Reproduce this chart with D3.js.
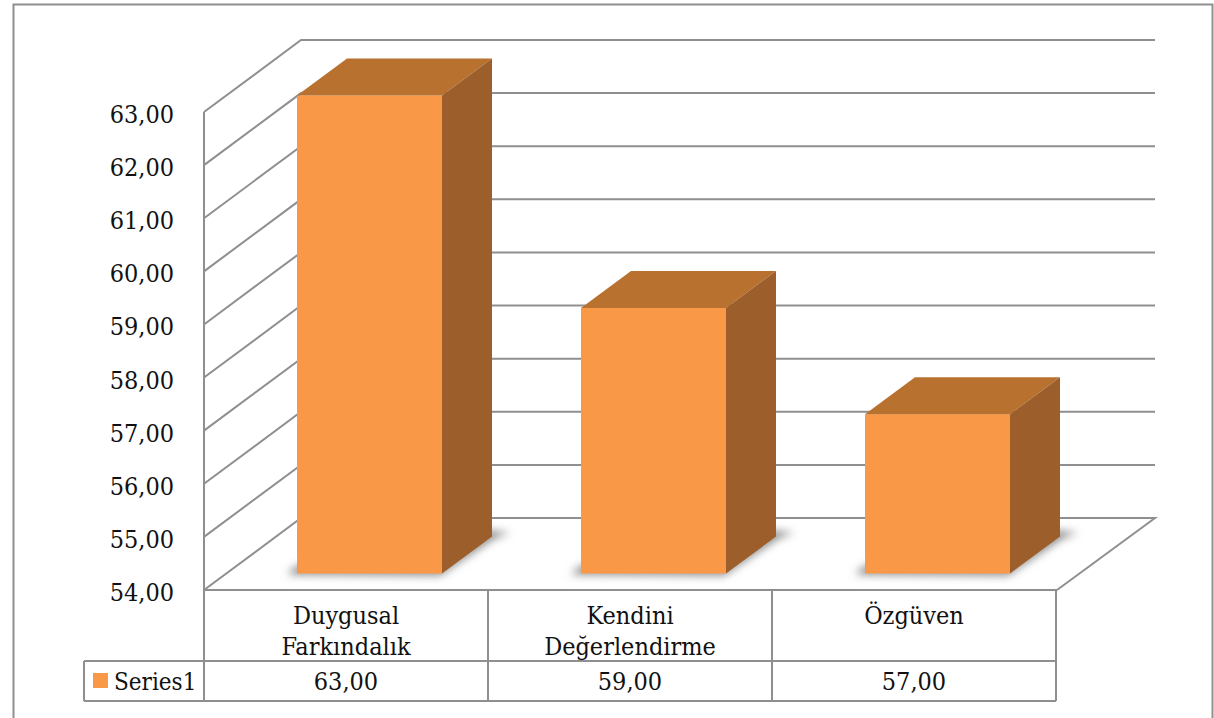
<!DOCTYPE html>
<html><head><meta charset="utf-8">
<script src="https://cdn.jsdelivr.net/npm/d3@7"></script>
<style>html,body{margin:0;padding:0;background:#fff}svg{display:block}
text{font-family:"DejaVu Serif Condensed","DejaVu Serif",serif;fill:#111;font-size:25px}</style>
</head><body><svg id="c" width="1214" height="718"></svg>
<script>
const categories = [["Duygusal","Farkındalık"],["Kendini","Değerlendirme"],["Özgüven"]];
const seriesName = "Series1";
const seriesValues = [63,59,57];
const tickValues = [54,55,56,57,58,59,60,61,62,63];
const fmt = v => v.toFixed(2).replace(".", ",");

const svg = d3.select("#c");
const lineCol = "#8f8f8f";
const y = d3.scaleLinear().domain([54,63]).range([590,112]);
const x = d3.scaleBand().domain(d3.range(3)).range([204,1056]).paddingInner(0).paddingOuter(0);
const depthX = 97, depthY = 72;
const barW = 145, barDX = 50, barDY = 37, barLift = 16.5, barShift = 23.5;

const defs = svg.append("defs");
const filt = defs.append("filter").attr("id","blur").attr("x","-20%").attr("y","-20%").attr("width","140%").attr("height","140%");
filt.append("feGaussianBlur").attr("stdDeviation",4);

// frame
svg.append("path").attr("d","M13.5,718V4.5H1212.5V718").attr("fill","none").attr("stroke",lineCol).attr("stroke-width",2);

// gridlines
const grid = svg.append("g").attr("fill","none").attr("stroke",lineCol).attr("stroke-width",2);
grid.selectAll("path").data(tickValues).join("path")
  .attr("d",v=>v===54
    ? `M204,${y(v)}L${204+depthX},${y(v)-depthY}H1155L1057,${y(v)}`
    : `M204,${y(v)}L${204+depthX},${y(v)-depthY}H1155`);
grid.append("path").attr("d",`M204,${y(63)}V${y(54)}`);
grid.append("path").attr("d",`M204,${y(54)}H1057`);

// y labels
svg.append("g").selectAll("text").data(tickValues).join("text")
  .attr("x",174).attr("y",v=>y(v)+11).attr("text-anchor","end").text(fmt);

// bars
const bars = svg.append("g").selectAll("g").data(seriesValues).join("g");
const bx = (d,i)=> x(i)+x.bandwidth()/2-barW/2+barShift;
const base = y(54)-barLift;
bars.append("path").attr("filter","url(#blur)").attr("fill","#8a8a8a")
  .attr("d",(d,i)=>{const l=bx(d,i);return `M${l-10},${base+1}L${l+barW-2},${base+2}L${l+barW+barDX+2},${base-barDY+2}L${l+barW+barDX+18},${base-barDY-4}L${l+barW+barDX-6},${base-barDY-6}L${l+barW},${base-8}H${l}Z`;});
bars.append("rect").attr("x",(d,i)=>bx(d,i)).attr("y",d=>y(d)-barLift)
  .attr("width",barW).attr("height",d=>base-(y(d)-barLift)).attr("fill","#f99847");
bars.append("path").attr("fill","#b9712f")
  .attr("d",(d,i)=>{const l=bx(d,i),t=y(d)-barLift;return `M${l},${t}L${l+barDX},${t-barDY}H${l+barW+barDX}L${l+barW},${t}Z`;});
bars.append("path").attr("fill","#9c5e2b")
  .attr("d",(d,i)=>{const l=bx(d,i),t=y(d)-barLift;return `M${l+barW},${t}L${l+barW+barDX},${t-barDY}V${base-barDY}L${l+barW},${base}Z`;});

// data table
const rowTop = 590, rowMid = 661, rowBot = 701;
const tbl = svg.append("g").attr("fill","none").attr("stroke",lineCol).attr("stroke-width",2);
tbl.append("path").attr("d",`M84,${rowMid}H1056M84,${rowBot}H1056M84,${rowMid}V${rowBot}`);
tbl.selectAll("line").data(d3.range(4)).join("line")
  .attr("x1",i=>204+i*x.bandwidth()).attr("x2",i=>204+i*x.bandwidth())
  .attr("y1",rowTop).attr("y2",rowBot);

const catG = svg.append("g").selectAll("g").data(categories).join("g");
catG.selectAll("text").data((d,i)=>d.map((t,j)=>({t,j,i}))).join("text")
  .attr("x",d=>x(d.i)+x.bandwidth()/2).attr("y",d=>624+d.j*31).attr("text-anchor","middle").text(d=>d.t);
svg.append("g").selectAll("text").data(seriesValues).join("text")
  .attr("x",(d,i)=>x(i)+x.bandwidth()/2).attr("y",690).attr("text-anchor","middle").text(fmt);
svg.append("rect").attr("x",93).attr("y",673).attr("width",15).attr("height",15).attr("fill","#f99847");
svg.append("text").attr("x",114).attr("y",690).style("font-size","24px").text(seriesName);
</script></body></html>
